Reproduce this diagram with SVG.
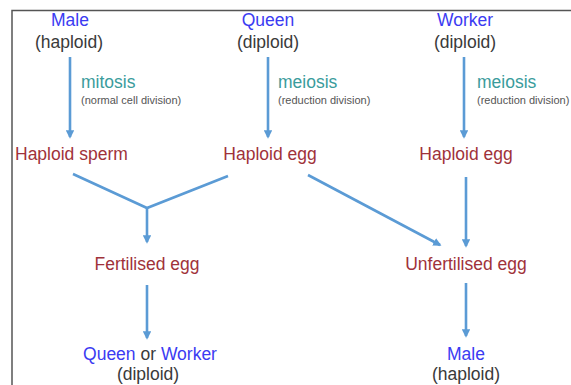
<svg xmlns="http://www.w3.org/2000/svg" width="571" height="385" viewBox="0 0 571 385">
<style>
text{font-family:"Liberation Sans",Arial,sans-serif;font-size:17.5px}
.b{fill:#3b3bf2}.k{fill:#3a3a3a}.r{fill:#a0323a}.t{fill:#3a9c9c}
.s{font-size:11px;fill:#555}
.c{text-anchor:middle}
.ln{stroke:#5b9bd5;stroke-width:2.6;fill:none}
</style>
<defs>
<marker id="ah" viewBox="0 0 10 10" refX="8" refY="5" markerWidth="3.2" markerHeight="3.2" orient="auto" markerUnits="strokeWidth">
<path d="M0,0L10,5L0,10z" fill="#5b9bd5"/>
</marker>
</defs>
<rect width="571" height="385" fill="#fff"/>
<path d="M12,385V10.5H571" stroke="#555" stroke-width="1.5" fill="none"/>
<g id="connectors">
<path class="ln" d="M70,57V137" marker-end="url(#ah)"/>
<path class="ln" d="M268,57V137" marker-end="url(#ah)"/>
<path class="ln" d="M464,57V137" marker-end="url(#ah)"/>
<path class="ln" d="M73,174L147,208L228,176"/>
<path class="ln" d="M147,208V242" marker-end="url(#ah)"/>
<path class="ln" d="M308,175L440,245" marker-end="url(#ah)"/>
<path class="ln" d="M466,177V246" marker-end="url(#ah)"/>
<path class="ln" d="M147,285V338" marker-end="url(#ah)"/>
<path class="ln" d="M466,283V336" marker-end="url(#ah)"/>
</g>
<g id="male-top"><text class="b c" x="70" y="26">Male</text><text class="k c" x="69" y="48">(haploid)</text></g>
<g id="queen-top"><text class="b c" x="268" y="26">Queen</text><text class="k c" x="268" y="48">(diploid)</text></g>
<g id="worker-top"><text class="b c" x="465" y="26">Worker</text><text class="k c" x="465" y="48">(diploid)</text></g>
<g id="mitosis"><text class="t" x="81" y="88">mitosis</text><text class="s" x="81" y="104">(normal cell division)</text></g>
<g id="meiosis1"><text class="t" x="278" y="88">meiosis</text><text class="s" x="278" y="104">(reduction division)</text></g>
<g id="meiosis2"><text class="t" x="477" y="88">meiosis</text><text class="s" x="477" y="104">(reduction division)</text></g>
<g id="sperm"><text class="r" x="15" y="160">Haploid sperm</text></g>
<g id="egg1"><text class="r c" x="270" y="160">Haploid egg</text></g>
<g id="egg2"><text class="r c" x="466" y="160">Haploid egg</text></g>
<g id="fert"><text class="r c" x="147" y="270">Fertilised egg</text></g>
<g id="unfert"><text class="r c" x="466" y="270">Unfertilised egg</text></g>
<g id="qw"><text class="c" x="150" y="360"><tspan class="b">Queen</tspan><tspan class="k"> or </tspan><tspan class="b">Worker</tspan></text><text class="k c" x="148" y="380">(diploid)</text></g>
<g id="male-bot"><text class="b c" x="466" y="360">Male</text><text class="k c" x="466" y="380">(haploid)</text></g>
</svg>
